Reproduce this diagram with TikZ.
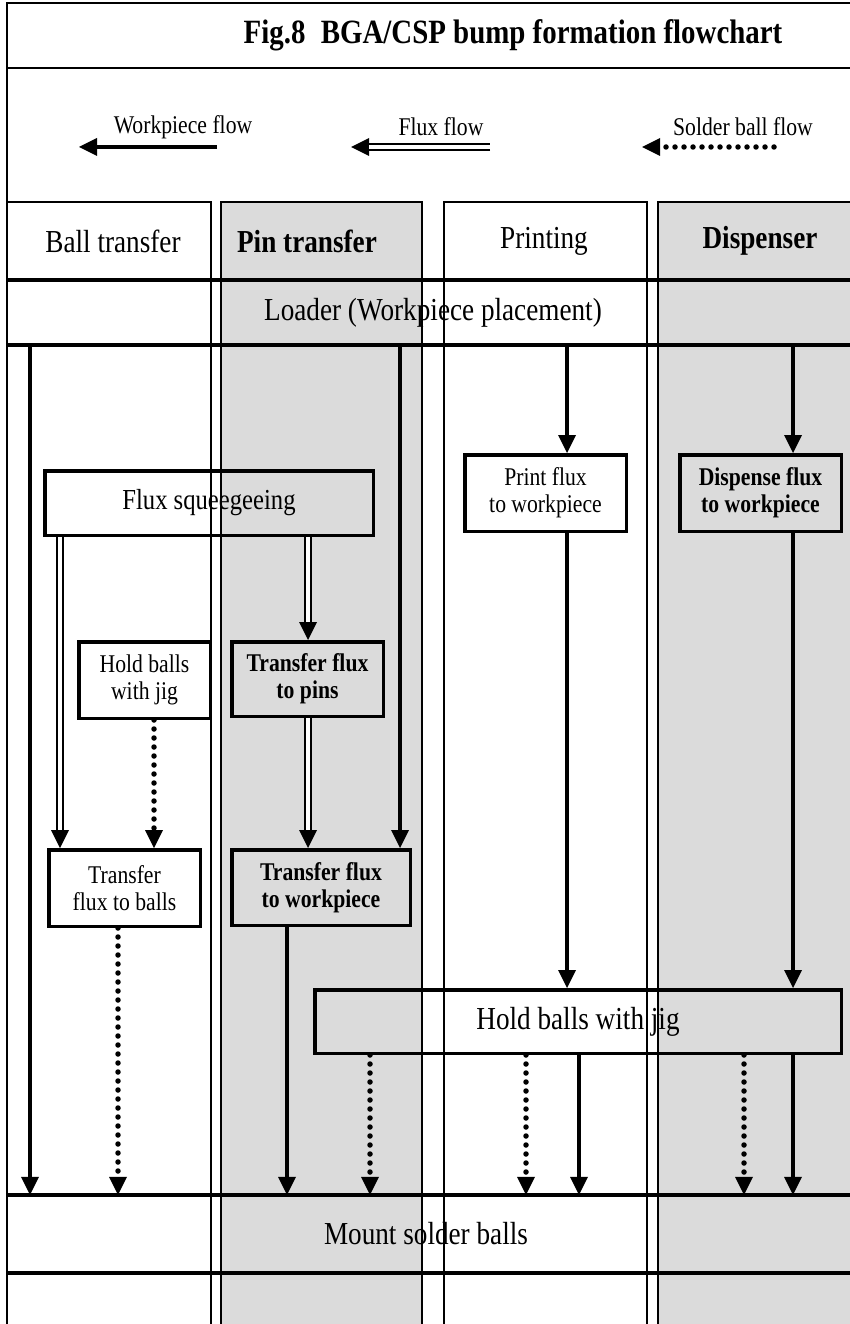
\documentclass[tikz,border=0pt]{standalone}
\usepackage{fontspec}
\setmainfont[FakeStretch=0.85]{Liberation Serif}
\usetikzlibrary{arrows.meta}
\tikzset{lane/.style={draw,line width=1.2pt},
  headtext/.style={font=\fontsize{32}{38}\selectfont},
  headbold/.style={font=\fontsize{32}{38}\selectfont\bfseries},
  legtext/.style={font=\fontsize{25.5}{30}\selectfont},
  flowbox/.style={draw,line width=3.5pt,inner sep=0pt,align=center,font=\fontsize{25.5}{27}\selectfont},
  flowbold/.style={flowbox,font=\fontsize{25.5}{27}\selectfont\bfseries},
  bandline/.style={line width=3.5pt},
  wpflow/.style={line width=4.5pt,-{Triangle[width=18pt,length=18pt,line width=0pt]}},
  fluxflow/.style={line width=8pt,-{Triangle[width=18pt,length=18pt,line width=0pt]},
    postaction={draw=white,line width=3.6pt,-,shorten >=18pt}},
  ballflow/.style={line width=5.5pt,line cap=round,dash pattern=on 0pt off 9pt,
    -{Triangle[width=18pt,length=18pt,line width=0pt]}}}

\begin{document}
\begin{tikzpicture}[x=1pt,y=-1pt]
    \useasboundingbox (0,0) rectangle (849,1324);
    % lanes
    \fill[black!14] (221,202) rectangle (422,1340);
    \fill[black!14] (658,202) rectangle (870,1340);
    \draw[lane] (870,3) -- (7,3) -- (7,1340);
    \draw[line width=2.5pt] (7,68) -- (870,68);
    \draw[lane] (7,202) -| (211,1340);
    \draw[lane] (221,1340) |- (422,202) -- (422,1340);
    \draw[lane] (444,1340) |- (647,202) -- (647,1340);
    \draw[lane] (658,1340) |- (870,202);

    \coordinate (frameL) at (7,0);
    \coordinate (frameR) at (870,0);

    \node[font=\fontsize{34}{40}\selectfont\bfseries] (title) at (513,35) {Fig.8\hspace{0.45em}BGA/CSP bump formation flowchart};

    % legend
    \node[legtext] (wplbl) at (183,127) {Workpiece flow};
    \node[legtext] (fxlbl) at (441,127) {Flux flow};
    \node[legtext] (bflbl) at (743,127) {Solder ball flow};
    \coordinate (wpstart) at (217,147);
    \coordinate (wpend) at (79,147);
    \coordinate (fxstart) at (490,147);
    \coordinate (fxend) at (351,147);
    \coordinate (bfstart) at (774,147);
    \coordinate (bfend) at (642,147);
    \draw[wpflow] (wpstart) -- (wpend);
    \draw[fluxflow] (fxstart) -- (fxend);
    \draw[ballflow] (bfstart) -- (bfend);

    % lane heads and bands
    \node[headtext] (hball) at (113,241) {Ball transfer};
    \node[headbold] (hpin) at (307,241) {Pin transfer};
    \node[headtext] (hprint) at (544,241) {Printing};
    \node[headbold] (hdisp) at (760,241) {Dispenser};
    \node[headtext,minimum height=65pt,inner sep=0pt] (loader) at (433,312.5) {Loader (Workpiece placement)};
    \node[headtext,minimum height=78pt,inner sep=0pt] (mount) at (426,1234) {Mount solder balls};
    \draw[bandline] (loader.north -| frameL) -- (loader.north -| frameR);
    \draw[bandline] (loader.south -| frameL) -- (loader.south -| frameR);
    \draw[bandline] (mount.north -| frameL) -- (mount.north -| frameR);
    \draw[bandline] (mount.south -| frameL) -- (mount.south -| frameR);

    % boxes
    \node[flowbox,font=\fontsize{29}{34}\selectfont,minimum width=328.5pt,minimum height=64.5pt] (squee) at (209,503) {Flux squeegeeing};
    \node[flowbox,minimum width=161.5pt,minimum height=76.5pt] (prt) at (545.5,493) {Print flux\\to workpiece};
    \node[flowbold,minimum width=161.5pt,minimum height=76.5pt] (dsp) at (760.5,493) {Dispense flux\\to workpiece};
    \node[flowbox,minimum width=131.5pt,minimum height=76.5pt] (hbj) at (144.5,680) {Hold balls\\with jig};
    \node[flowbold,minimum width=151.5pt,minimum height=74.5pt] (tfp) at (307.5,679) {Transfer flux\\to pins};
    \node[flowbox,minimum width=151.5pt,minimum height=76.5pt] (tfb) at (124.5,888) {Transfer\\flux to balls};
    \node[flowbold,minimum width=178.5pt,minimum height=75.5pt] (tfw) at (321,887.5) {Transfer flux\\to workpiece};
    \node[flowbox,font=\fontsize{32}{38}\selectfont,minimum width=526.5pt,minimum height=63.5pt] (hold) at (578,1021.5) {Hold balls with jig};

    % arrow columns
    \coordinate (wpball) at (30,0);
    \coordinate (wptfw) at (287,0);
    \coordinate (wppin) at (400,0);
    \coordinate (wpprint) at (567,0);
    \coordinate (wphold) at (579,0);
    \coordinate (wpdisp) at (793,0);
    \coordinate (fxball) at (60,0);
    \coordinate (fxpin) at (308,0);
    \coordinate (bfball) at (118,0);
    \coordinate (bfjig) at (154,0);
    \coordinate (bfpin) at (370,0);
    \coordinate (bfprint) at (526,0);
    \coordinate (bfdisp) at (744,0);

    \draw[wpflow] (loader.south -| wpball) -- (mount.north -| wpball);
    \draw[wpflow] (loader.south -| wppin) -- (tfw.north -| wppin);
    \draw[wpflow] (loader.south -| wpprint) -- (prt.north -| wpprint);
    \draw[wpflow] (prt.south -| wpprint) -- (hold.north -| wpprint);
    \draw[wpflow] (loader.south -| wpdisp) -- (dsp.north -| wpdisp);
    \draw[wpflow] (dsp.south -| wpdisp) -- (hold.north -| wpdisp);
    \draw[wpflow] (tfw.south -| wptfw) -- (mount.north -| wptfw);
    \draw[wpflow] (hold.south -| wphold) -- (mount.north -| wphold);
    \draw[wpflow] (hold.south -| wpdisp) -- (mount.north -| wpdisp);

    \draw[fluxflow] (squee.south -| fxball) -- (tfb.north -| fxball);
    \draw[fluxflow] (squee.south -| fxpin) -- (tfp.north -| fxpin);
    \draw[fluxflow] (tfp.south -| fxpin) -- (tfw.north -| fxpin);

    \draw[ballflow] (hbj.south -| bfjig) -- (tfb.north -| bfjig);
    \draw[ballflow] (tfb.south -| bfball) -- (mount.north -| bfball);
    \draw[ballflow] (hold.south -| bfpin) -- (mount.north -| bfpin);
    \draw[ballflow] (hold.south -| bfprint) -- (mount.north -| bfprint);
    \draw[ballflow] (hold.south -| bfdisp) -- (mount.north -| bfdisp);
\end{tikzpicture}
\end{document}
